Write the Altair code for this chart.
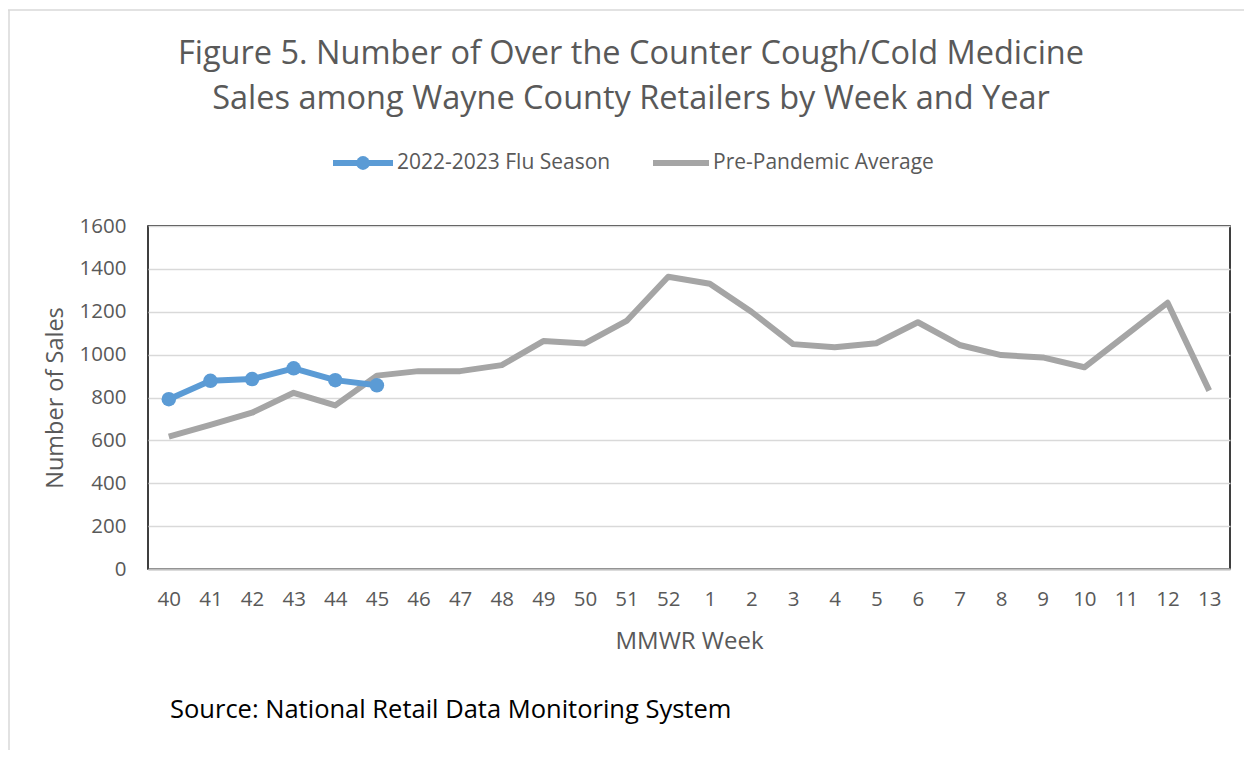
import altair as alt
import pandas as pd

weeks = ["40", "41", "42", "43", "44", "45", "46", "47", "48", "49", "50", "51", "52",
         "1", "2", "3", "4", "5", "6", "7", "8", "9", "10", "11", "12", "13"]
flu_2022 = [792, 878, 886, 936, 881, 857]
pre_pandemic = [617, 672, 729, 822, 763, 902, 923, 923, 951, 1063, 1052, 1157, 1363,
                1331, 1200, 1049, 1034, 1053, 1151, 1045, 998, 987, 941, 1091, 1242, 832]
y_ticks = [0, 200, 400, 600, 800, 1000, 1200, 1400, 1600]

title_lines = ["Figure 5. Number of Over the Counter Cough/Cold Medicine",
               "Sales among Wayne County Retailers by Week and Year"]
series_names = ["2022-2023 Flu Season", "Pre-Pandemic Average"]
source_text = "Source: National Retail Data Monitoring System"

FONT = "Open Sans"
BLUE = "#5b9bd5"
GRAY = "#a5a5a5"

df_flu = pd.DataFrame({"week": weeks[:len(flu_2022)], "sales": flu_2022})
df_pre = pd.DataFrame({"week": weeks, "sales": pre_pandemic})

x_enc = alt.X("week:O", sort=weeks, scale=alt.Scale(domain=weeks, padding=0.5),
              axis=alt.Axis(title="MMWR Week", labelAngle=0, ticks=False,
                            labelPadding=20, labelFontSize=20.5, labelColor="#595959",
                            labelFont=FONT, titleFont=FONT, titleFontSize=24,
                            titleColor="#595959", titleFontWeight="normal",
                            titlePadding=20, domainColor="#bfbfbf", domainWidth=2))
y_enc = alt.Y("sales:Q", scale=alt.Scale(domain=[0, 1600], nice=False),
              axis=alt.Axis(title="Number of Sales", values=y_ticks, format="d", ticks=False,
                            domain=False, labelPadding=22, labelFontSize=20.5,
                            labelColor="#595959", labelFont=FONT, titleFont=FONT,
                            titleFontSize=23.5, titleColor="#595959",
                            titleFontWeight="normal", titlePadding=12,
                            gridColor="#d9d9d9", gridWidth=1.5))

pre_line = alt.Chart(df_pre).mark_line(color=GRAY, strokeWidth=6, strokeJoin="round").encode(
    x=x_enc, y=y_enc)
flu_line = alt.Chart(df_flu).mark_line(color=BLUE, strokeWidth=6, strokeJoin="round").encode(
    x=x_enc, y=y_enc)
flu_pts = alt.Chart(df_flu).mark_circle(color=BLUE, size=210, opacity=1).encode(
    x=x_enc, y=y_enc)

one = pd.DataFrame({"k": [0]})

def text_at(txt, x, y, size, color="#595959", align="center"):
    return alt.Chart(one).mark_text(text=txt, fontSize=size, font=FONT, color=color,
                                    align=align, baseline="middle").encode(
        x=alt.value(x), y=alt.value(y))

title1 = text_at(title_lines[0], 483, -172, 32.5)
title2 = text_at(title_lines[1], 483, -127, 32.5)

leg_blue_line = alt.Chart(one).mark_rule(color=BLUE, strokeWidth=6).encode(
    x=alt.value(185), x2=alt.value(245), y=alt.value(-63))
leg_blue_pt = alt.Chart(one).mark_circle(color=BLUE, size=190, opacity=1).encode(
    x=alt.value(215), y=alt.value(-63))
leg_blue_txt = text_at(series_names[0], 249, -63, 21, align="left")
leg_gray_line = alt.Chart(one).mark_rule(color=GRAY, strokeWidth=6).encode(
    x=alt.value(505), x2=alt.value(561), y=alt.value(-63))
leg_gray_txt = text_at(series_names[1], 565, -63, 21, align="left")

source = text_at(source_text, 22, 484, 25.5, color="#000000", align="left")

frame_top = alt.Chart(one).mark_rule(color="#d9d9d9", strokeWidth=1.5).encode(
    x=alt.value(-140), x2=alt.value(1100), y=alt.value(-216))
frame_left = alt.Chart(one).mark_rule(color="#d9d9d9", strokeWidth=1.5).encode(
    x=alt.value(-139), y=alt.value(-216), y2=alt.value(530))

chart = alt.layer(
    pre_line, flu_line, flu_pts,
    title1, title2, leg_blue_line, leg_blue_pt, leg_blue_txt,
    leg_gray_line, leg_gray_txt, source, frame_top, frame_left
).properties(
    width=1082, height=343,
    autosize=alt.AutoSizeParams(type="none"),
    padding={"left": 140, "top": 218, "right": 14, "bottom": 181},
    background="white",
).configure_view(stroke="#000000", strokeWidth=1.5)

chart.save("out.html", embed_options={"renderer": "svg", "actions": False})
